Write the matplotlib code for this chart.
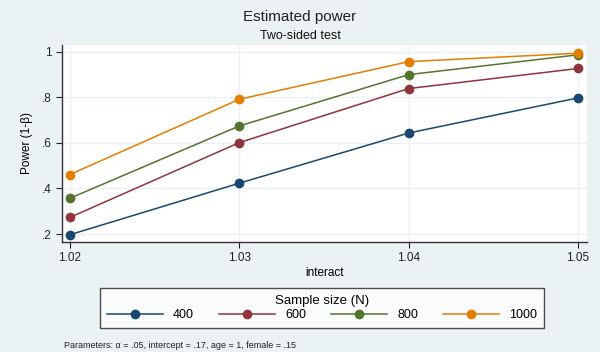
import matplotlib
matplotlib.use("Agg")
import matplotlib.pyplot as plt

plt.rcParams['font.family'] = ['Liberation Sans', 'DejaVu Sans']

# data
interact = [1.02, 1.03, 1.04, 1.05]
sample_sizes = ['400', '600', '800', '1000']
power_400 = [0.197, 0.423, 0.643, 0.797]
power_600 = [0.273, 0.601, 0.838, 0.926]
power_800 = [0.357, 0.674, 0.899, 0.986]
power_1000 = [0.461, 0.791, 0.956, 0.993]
x_ticks = [1.02, 1.03, 1.04, 1.05]
y_ticks = [0.2, 0.4, 0.6, 0.8, 1.0]
y_ticklabels = ['.2', '.4', '.6', '.8', '1']

colors = ['#1a476f', '#90353b', '#55752f', '#e37e00']
bg = '#eaf2f3'

fig = plt.figure(figsize=(6, 3.52), dpi=100, facecolor=bg)
ax = fig.add_axes([62/600, 1 - 242/352, (587-62)/600, (242-45)/352])
ax.set_facecolor('white')

series = [power_400, power_600, power_800, power_1000]
for vals, lab, c in zip(series, sample_sizes, colors):
    ax.plot(interact, vals, color=c, lw=1.1, marker='o', ms=6, label=lab, zorder=3)

ax.set_xlim(1.01953, 1.05053)
ax.set_ylim(0.165, 1.029)
ax.set_xticks(x_ticks)
ax.set_xticklabels(['1.02', '1.03', '1.04', '1.05'])
ax.set_yticks(y_ticks)
ax.set_yticklabels(y_ticklabels)
ax.grid(True, color=bg, lw=1)
for s in ['top', 'right']:
    ax.spines[s].set_visible(False)
for s in ['left', 'bottom']:
    ax.spines[s].set_color('#333333')
    ax.spines[s].set_linewidth(1)
ax.tick_params(labelsize=8.5, colors='#222222', length=4, width=0.8)
ax.set_xlabel('interact', fontsize=8.5, labelpad=2)
ax.set_ylabel('Power (1-β)', fontsize=8.5, labelpad=6)

fig.text(0.5, 1 - 17/352, 'Estimated power', ha='center', va='center', fontsize=11, color='#222222')
fig.text(0.5, 1 - 36/352, 'Two-sided test', ha='center', va='center', fontsize=9, color='#111111')

leg = fig.legend(loc='center', bbox_to_anchor=(322/600, 1 - 308/352), ncol=4,
                 title='Sample size (N)', fontsize=9, title_fontsize=9.5,
                 frameon=True, fancybox=False, edgecolor='#222222', handlelength=4.5,
                 columnspacing=2.0, handletextpad=0.8, borderpad=0.55, labelspacing=0.2)
leg.get_frame().set_linewidth(1)
leg.get_frame().set_facecolor('white')

fig.text(64/600, 1 - 345/352, 'Parameters: α = .05, intercept = .17, age = 1, female = .15',
         ha='left', va='center', fontsize=6.5, color='#222222')

fig.savefig('out.png', dpi=100, facecolor=bg)
